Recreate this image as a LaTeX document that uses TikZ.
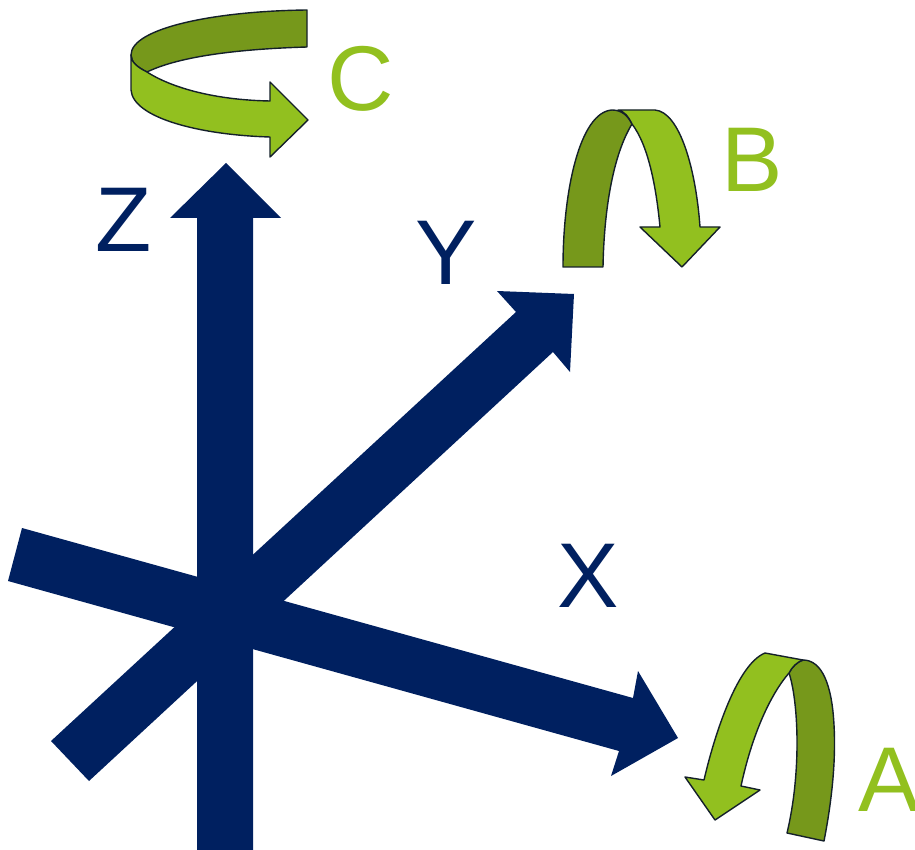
\documentclass[tikz,border=0pt]{standalone}
\usepackage{fontspec}
\setmainfont{Liberation Sans}
\definecolor{navy}{HTML}{002060}
\definecolor{lightgreen}{HTML}{92C01F}
\definecolor{darkgreen}{HTML}{76981B}
\definecolor{edge}{HTML}{14202A}
\tikzset{
  axis/.style={fill=navy,draw=none},
  ribbonlight/.style={fill=lightgreen,draw=edge,line width=1.4pt,line join=round},
  ribbondark/.style={fill=darkgreen,draw=edge,line width=1.4pt,line join=round},
  axislabel/.style={anchor=base,inner sep=0pt,text=navy,font=\fontsize{92}{92}\selectfont},
  rotlabel/.style={anchor=base,inner sep=0pt,text=lightgreen,font=\fontsize{92}{92}\selectfont}
}
\begin{document}
\begin{tikzpicture}[x=1pt,y=-1pt]
\useasboundingbox (0,0) rectangle (915,850);
\clip (0,0) rectangle (915,850);
% axes
\path[axis] (197,850) -- (197,218) -- (170,218) -- (226,163) -- (281,218) -- (253,218) -- (253,850) -- cycle;
\path[axis] (51,741) -- (516,312) -- (497,291) -- (574,294) -- (570,372) -- (553,352) -- (89,781) -- cycle;
\path[axis] (22,528) -- (633,698) -- (638,671) -- (678,738) -- (611,776) -- (619,751) -- (8,581) -- cycle;
% C
\path[ribbondark] (307,10) -- (307,47) .. controls (240,49) and (180,56) .. (147,72)
  .. controls (137,67) and (131,62) .. (131,55) .. controls (131,28) and (215,11) .. (307,10) -- cycle;
\path[ribbonlight] (131,55) -- (131,90) .. controls (133,118) and (200,135) .. (270,137)
  -- (270,157) -- (308,120) -- (270,82) -- (270,101) .. controls (215,100) and (172,88) .. (147,72)
  .. controls (137,67) and (131,62) .. (131,55) -- cycle;
% B
\path[ribbondark] (563,267) -- (603,267) .. controls (604,210) and (613,155) .. (632,124)
  .. controls (628,116) and (622,110) .. (612,110) .. controls (580,112) and (563,190) .. (563,267) -- cycle;
\path[ribbonlight] (618,110) -- (655,110) .. controls (680,112) and (696,170) .. (700,227)
  -- (720,227) -- (682,267) -- (640,227) -- (660,227) .. controls (656,185) and (648,145) .. (632,124)
  .. controls (628,116) and (625,112) .. (618,110) -- cycle;
% A
\path[ribbondark] (787,833) -- (824,841) .. controls (832,800) and (836,760) .. (834,725)
  .. controls (832,685) and (822,660) .. (803,660) .. controls (797,662) and (792,667) .. (789,673)
  .. controls (798,700) and (802,770) .. (787,833) -- cycle;
\path[ribbonlight] (765,653) -- (803,660) .. controls (797,662) and (792,667) .. (789,673)
  .. controls (770,695) and (752,735) .. (741,786) -- (760,790) -- (715,820) -- (685,777) -- (704,780)
  .. controls (712,745) and (735,665) .. (765,653) -- cycle;
% labels
\node[axislabel] (zlabel) at (124,252) {Z};
\node[axislabel] (ylabel) at (446,284) {Y};
\node[axislabel] (xlabel) at (588,607) {X};
\node[rotlabel] (clabel) at (361,111) {C};
\node[rotlabel] (blabel) at (752,192) {B};
\node[rotlabel] (alabel) at (889,811) {A};
\end{tikzpicture}
\end{document}
